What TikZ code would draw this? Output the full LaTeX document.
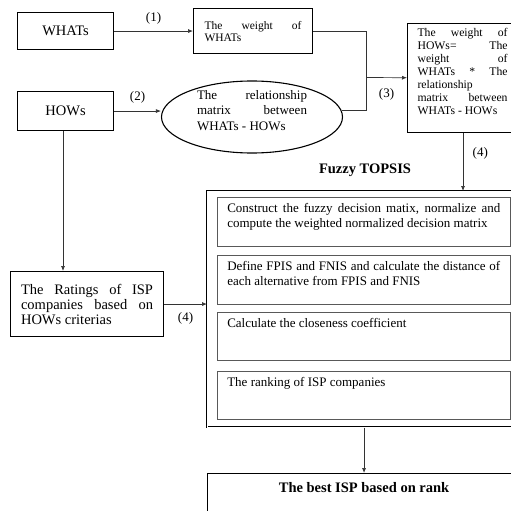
\documentclass[tikz,border=0pt]{standalone}
\usepackage{fontspec}
\setmainfont{Liberation Serif}
\usetikzlibrary{shapes.geometric, arrows.meta, positioning}
\hyphenpenalty=10000
\tolerance=10000

\begin{document}
\begin{tikzpicture}[
    x=1pt, y=-1pt,
    box/.style={rectangle, draw=black, line width=1.1pt, anchor=north west, inner xsep=10pt, inner ysep=0pt, align=justify},
    stepbox/.style={rectangle, draw=black!65, line width=0.6pt, anchor=north west, text width=273pt, align=justify, inner xsep=10pt, inner ysep=5pt, text height=10pt, text depth=29pt, font=\fontsize{13}{15}\selectfont},
    arrow/.style={-{Latex[length=5pt, width=4pt]}, line width=0.7pt, draw=black!80},
    link/.style={line width=0.7pt, draw=black!80},
    lab/.style={font=\fontsize{13}{15}\selectfont}
]
    \useasboundingbox (0,0) rectangle (511,511);
    \clip (0,0) rectangle (511,511);

    % left column
    \node[box, minimum width=96pt, minimum height=37pt, align=center, font=\fontsize{14.5}{15}\selectfont] (whats) at (17,12) {WHATs};
    \node[box, minimum width=96pt, minimum height=39pt, align=center, font=\fontsize{14.5}{15}\selectfont] (hows) at (17,91) {HOWs};
    \node[box, text width=132pt, inner xsep=10.5pt, minimum height=65pt, font=\fontsize{14.5}{15}\selectfont] (ratings) at (10,271) {The Ratings of ISP companies based on HOWs criterias};

    % weights
    \node[box, text width=97pt, inner xsep=11pt, minimum height=45pt, font=\fontsize{11.5}{12}\selectfont] (wwhats) at (193,8) {The weight of\linebreak WHATs};
    \node[ellipse, draw=black, line width=1.1pt, minimum width=181pt, minimum height=72pt, inner sep=0pt, font=\fontsize{13}{15.5}\selectfont] (rel) at (252,117)
        {\raisebox{3.5pt}[0pt][0pt]{\parbox[c]{110pt}{The relationship\linebreak matrix between\linebreak WHATs - HOWs}}};
    \node[box, text width=90pt, minimum height=109pt, inner ysep=4.5pt, text height=8.5pt, text depth=91.5pt, font=\fontsize{11.7}{13}\selectfont] (whows) at (407,23)
        {The weight of\linebreak HOWs= The\linebreak weight of\linebreak WHATs * The\linebreak relationship\linebreak matrix between\linebreak WHATs - HOWs};

    % fuzzy TOPSIS
    \node[font=\fontsize{14.5}{15}\selectfont\bfseries] (title) at (365,170) {Fuzzy TOPSIS};
    \node[box, minimum width=313pt, minimum height=236pt, line width=0.7pt, double, double distance=0.8pt] (topsis) at (207,191) {};
    \node[stepbox] (s1) at (217,197) {Construct the fuzzy decision matix, normalize and compute the weighted normalized decision matrix};
    \node[stepbox] (s2) at (217,255) {Define FPIS and FNIS and calculate the distance of each alternative from FPIS and FNIS};
    \node[stepbox, text depth=28pt] (s3) at (217,312) {Calculate the closeness coefficient};
    \node[stepbox, text depth=28pt] (s4) at (217,371) {The ranking of ISP companies};

    \node[box, minimum width=313pt, align=center, inner ysep=5pt, text height=14pt, text depth=35pt, font=\fontsize{14.5}{15}\selectfont\bfseries] (best) at (207,473) {The best ISP based on rank};

    % connectors
    \coordinate (j) at (366,77.5);
    \draw[arrow] (whats) -- node[lab, above=3pt] (l1) {(1)} (wwhats.west |- whats);
    \draw[arrow] (hows) -- node[lab, above=4pt] (l2) {(2)} (hows -| rel.west);
    \draw[link] (wwhats.east) -| (j);
    \draw[link] (rel.4) -| (j);
    \draw[arrow] (j) -- node[lab, below=7pt] (l3) {(3)} (whows);
    \draw[arrow] (whows.south -| 463,0) -- node[lab, right=6pt, pos=0.35] (l4a) {(4)} (topsis.north -| 463,0);
    \draw[arrow] (hows.south -| 63,0) -- (ratings.north -| 63,0);
    \draw[arrow] (ratings.east) -- node[lab, below=5pt] (l4b) {(4)} (ratings.east -| topsis.west);
    \draw[arrow] (topsis.south -| best.north) -- (best.north);
\end{tikzpicture}
\end{document}
